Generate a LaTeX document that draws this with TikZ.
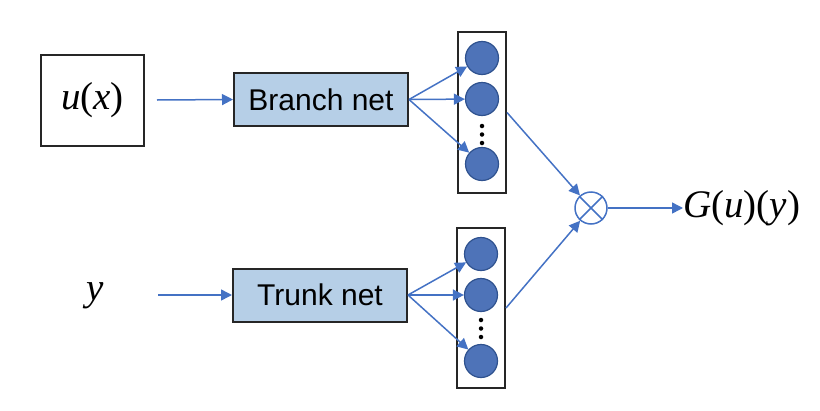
\documentclass[tikz,border=0pt]{standalone}
\usepackage{fontspec}
\setmainfont{Liberation Serif}
\newfontfamily\arialf{Liberation Sans}
\usetikzlibrary{arrows.meta,positioning}
\definecolor{lineblue}{HTML}{4472C4}
\definecolor{boxfill}{HTML}{B6CFE7}
\definecolor{neuronfill}{HTML}{4E73B8}
\definecolor{neuronedge}{HTML}{2F528F}
\tikzset{
  conn/.style={draw=lineblue, line width=1.5pt},
  arr/.style={conn, -{Triangle[length=11pt,width=11pt]}},
  netbox/.style={draw=black!85, line width=2pt, fill=boxfill, minimum width=174pt, minimum height=53pt, inner sep=0pt, font=\arialf\fontsize{30}{34}\selectfont},
  colbox/.style={draw=black!85, line width=2pt, fill=white, minimum width=48pt, inner sep=0pt},
  neuron/.style={circle, draw=neuronedge, line width=1.2pt, fill=neuronfill, minimum size=33pt, inner sep=0pt},
  bigtext/.style={font=\fontsize{39}{43}\selectfont, inner sep=0pt},
  dotn/.style={circle, fill=black, minimum size=4.5pt, inner sep=0pt},
}
\begin{document}
\begin{tikzpicture}[x=1pt,y=-1pt]
\useasboundingbox (0,0) rectangle (820,410);
% input box
\node[draw=black!85, line width=2pt, minimum width=103pt, minimum height=91pt, inner sep=0pt, bigtext] (ux) at (92.5,100.5) {\textit{u}(\textit{x})};
\coordinate (uxout) at (157,100);
\node[netbox] (branch) at (321,99.5) {Branch net};
\node[bigtext] (y) at (95,296) {\textit{y}};
\coordinate (yout) at (158,295);
\node[netbox] (trunk) at (320,295) {Trunk net};
% columns
\node[colbox, minimum height=161pt] (col1) at (482,112.5) {};
\node[colbox, minimum height=160pt] (col2) at (481,308) {};
\node[neuron] (b1) at (482,58) {};
\node[neuron] (b2) at (482,99) {};
\node[neuron] (b3) at (482,164) {};
\node[dotn] (bd1) at (482,126) {};
\node[dotn] (bd2) at (482,134.5) {};
\node[dotn] (bd3) at (482,143) {};
\node[neuron] (t1) at (481,254) {};
\node[neuron] (t2) at (481,295) {};
\node[neuron] (t3) at (481,361) {};
\node[dotn] (td1) at (481,320) {};
\node[dotn] (td2) at (481,328.5) {};
\node[dotn] (td3) at (481,337) {};
% product
\node[circle, draw=lineblue, line width=1.5pt, minimum size=32pt, inner sep=0pt] (prod) at (591,208) {};
\draw[conn] (prod.north west) -- (prod.south east) (prod.north east) -- (prod.south west);
\node[bigtext, anchor=west] (G) at (683,208) {\textit{G}(\textit{u})(\textit{y})};
% connectors
\draw[arr] (uxout) -- (branch.west);
\draw[arr] (yout) -- (trunk.west);
\draw[arr] (branch.east) -- (b1);
\draw[arr] (branch.east) -- (b2);
\draw[arr] (branch.east) -- (b3);
\draw[arr] (trunk.east) -- (t1);
\draw[arr] (trunk.east) -- (t2);
\draw[arr] (trunk.east) -- (t3);
\draw[arr] (col1.east) -- (prod);
\draw[arr] (col2.east) -- (prod);
\draw[arr] (prod.east) -- (G.west);
\end{tikzpicture}
\end{document}
